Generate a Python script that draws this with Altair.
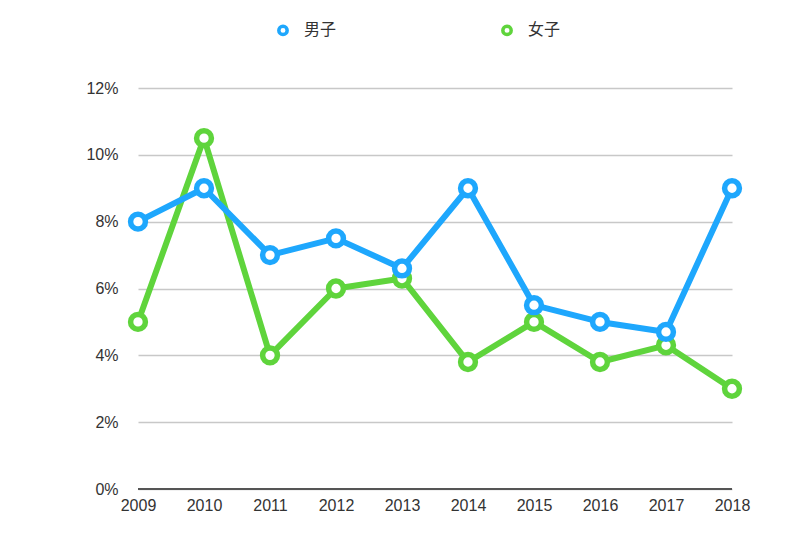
import altair as alt
import pandas as pd

years = ["2009", "2010", "2011", "2012", "2013", "2014", "2015", "2016", "2017", "2018"]
male = [0.080, 0.090, 0.070, 0.075, 0.066, 0.090, 0.055, 0.050, 0.047, 0.090]
female = [0.050, 0.105, 0.040, 0.060, 0.063, 0.038, 0.050, 0.038, 0.043, 0.030]
series_names = ["男子", "女子"]
colors = ["#1ea7fd", "#5fd43c"]

rows = []
for y, v in zip(years, female):
    rows.append({"year": y, "value": v, "series": "女子", "ord": 0})
for y, v in zip(years, male):
    rows.append({"year": y, "value": v, "series": "男子", "ord": 1})
df = pd.DataFrame(rows)

font = "Liberation Sans"

x_enc = alt.X("year:O", scale=alt.Scale(type="point", padding=0),
              axis=alt.Axis(title=None, labelAngle=0, domain=False, ticks=False, grid=False,
                            labelPadding=8, labelFontSize=16, labelColor="#333333",
                            labelFont=font))
y_enc = alt.Y("value:Q", scale=alt.Scale(domain=[0, 0.12], nice=False),
              axis=alt.Axis(title=None, values=[0, 0.02, 0.04, 0.06, 0.08, 0.10, 0.12],
                            format=".0%", domain=False, ticks=False, labelPadding=20,
                            labelFontSize=16, labelColor="#333333", labelFont=font,
                            grid=True, gridColor="#c8c8c8", gridWidth=1.5))
color_scale = alt.Scale(domain=series_names, range=colors)

legend = alt.Legend(title=None, orient="none", direction="horizontal",
                    legendX=137, legendY=-66, labelFont="Noto Sans CJK SC",
                    labelFontSize=16, labelColor="#333333",
                    symbolType="circle", symbolSize=70,
                    symbolStrokeWidth=3.5, symbolFillColor="white",
                    labelOffset=13, columnPadding=158)

lines = alt.Chart(df).mark_line(strokeWidth=6, strokeJoin="round").encode(
    x=x_enc, y=y_enc,
    color=alt.Color("series:N", scale=color_scale, legend=legend),
    order=alt.Order("ord:Q"),
)

baseline = alt.Chart(pd.DataFrame({"v": [0]})).mark_rule(color="#555555", strokeWidth=2).encode(
    y=alt.Y("v:Q"), x=alt.value(0), x2=alt.value(594)
)

points = alt.Chart(df).mark_point(shape="circle", filled=False, fill="white", fillOpacity=1,
                                   opacity=1, size=220, strokeWidth=5.5).encode(
    x=x_enc, y=y_enc,
    color=alt.Color("series:N", scale=color_scale, legend=legend),
)

chart = alt.layer(baseline, lines, points).properties(
    width=594, height=401,
    background="white",
    autosize=alt.AutoSizeParams(type="none"),
    padding={"left": 138, "top": 88, "right": 68, "bottom": 44},
).configure_view(stroke=None)

chart.save("out.html", embed_options={"renderer": "svg", "actions": False})
